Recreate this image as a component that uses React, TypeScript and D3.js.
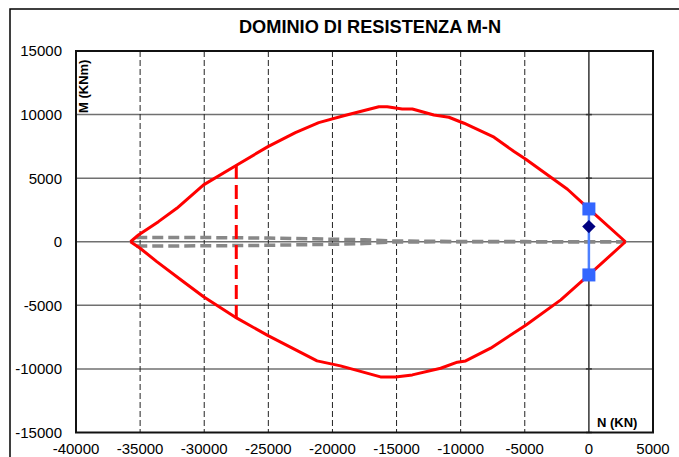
import * as d3 from 'd3';

// Dominio M-N: red envelope (upper / lower branch)
const upperN = [-35750, -35130, -33570, -32140, -30050, -27450, -25030, -22890, -21070, -19120, -16380, -15730, -14560, -13770, -12090, -10920, -9740, -7400, -5840, -4920, -1670, 0, 2850];
const upperM = [0, 530, 1580, 2630, 4470, 6040, 7480, 8580, 9370, 9910, 10620, 10620, 10440, 10440, 9970, 9790, 9320, 8220, 7090, 6490, 4130, 2580, 0];
const lowerN = [-35750, -35000, -33700, -31620, -30050, -27450, -25020, -21200, -19375, -16250, -15080, -13770, -11560, -10260, -9610, -7660, -4900, -2190, 0, 2850];
const lowerM = [0, -510, -1560, -3140, -4320, -6010, -7380, -9370, -9760, -10630, -10630, -10470, -9950, -9470, -9370, -8370, -6540, -4570, -2610, 0];

// grey dashed curves
const grayN = [-35300, -30000, -25000, -20000, -17500, -15500, -10000, -5000, 0, 2850];
const grayUpM = [340, 330, 290, 200, 160, 60, 20, 10, 0, 0];
const grayLoM = [-340, -320, -280, -200, -140, -20, 0, 0, 0, 0];

// red dashed limit
const limitN = [-27500, -27500];
const limitM = [6040, -6010];

// design points
const squareN = [0, 0];
const squareM = [2580, -2610];
const diamondN = [0];
const diamondM = [1190];

const xTicks = [-40000, -35000, -30000, -25000, -20000, -15000, -10000, -5000, 0, 5000];
const yTicks = [15000, 10000, 5000, 0, -5000, -10000, -15000];

const W = 679;
const H = 457;
const font = '"Liberation Sans", Arial, sans-serif';

export default function App() {
  const x = d3.scaleLinear().domain([-40000, 5000]).range([76, 653]);
  const y = d3.scaleLinear().domain([-15000, 15000]).range([432.5, 51]);

  const line = d3
    .line<[number, number]>()
    .x((d) => x(d[0]))
    .y((d) => y(d[1]));
  const pts = (ns: number[], ms: number[]) => ns.map((n, i) => [n, ms[i]] as [number, number]);

  const [x0, x1] = x.range();
  const [y0, y1] = y.range();

  return (
    <svg width={W} height={H} style={{ position: 'absolute', left: 0, top: 0, background: '#fff' }} fontFamily={font}>
      <rect x={10} y={9} width={720} height={520} fill="#fff" stroke="#000" strokeWidth={1.5} />
      <text x={370} y={33} textAnchor="middle" fontWeight="bold" fontSize={18.2}>
        DOMINIO DI RESISTENZA M-N
      </text>

      {/* horizontal grid */}
      {yTicks
        .filter((t) => t !== 15000 && t !== -15000)
        .map((t) => (
          <line key={'h' + t} x1={x0} x2={x1} y1={y(t)} y2={y(t)} stroke="#707070" strokeWidth={1.5} />
        ))}
      {/* vertical grid */}
      {xTicks
        .filter((t) => t !== -40000 && t !== 5000 && t !== 0)
        .map((t) => (
          <line key={'v' + t} x1={x(t)} x2={x(t)} y1={y1} y2={y0} stroke="#222" strokeWidth={1} strokeDasharray="6,3" />
        ))}
      <line x1={x(0)} x2={x(0)} y1={y1} y2={y0} stroke="#333" strokeWidth={1.5} />
      {yTicks.map((t) => (
        <line key={'t' + t} x1={x(0) - 3} x2={x(0) + 3} y1={y(t)} y2={y(t)} stroke="#333" strokeWidth={1.5} />
      ))}
      <rect x={x0} y={y1} width={x1 - x0} height={y0 - y1} fill="none" stroke="#111" strokeWidth={2} />

      {/* tick labels */}
      {yTicks.map((t) => (
        <text key={'yl' + t} x={62} y={y(t)} dy="0.36em" textAnchor="end" fontSize={15}>
          {t}
        </text>
      ))}
      {xTicks.map((t) => (
        <text key={'xl' + t} x={x(t)} y={453.5} textAnchor="middle" fontSize={15}>
          {t}
        </text>
      ))}
      <text transform="translate(87.5,113) rotate(-90)" fontSize={13} fontWeight="bold">
        M (KNm)
      </text>
      <text x={597} y={427} fontSize={13} fontWeight="bold">
        N (KN)
      </text>

      {/* grey dashed curves */}
      <path d={line(pts(grayN, grayUpM)) ?? ''} fill="none" stroke="#888" strokeWidth={3.5} strokeDasharray="11,5" />
      <path d={line(pts(grayN, grayLoM)) ?? ''} fill="none" stroke="#888" strokeWidth={3.5} strokeDasharray="11,5" />

      {/* red domain */}
      <path d={line(pts(upperN, upperM)) ?? ''} fill="none" stroke="#ff0000" strokeWidth={3} strokeLinejoin="round" />
      <path d={line(pts(lowerN, lowerM)) ?? ''} fill="none" stroke="#ff0000" strokeWidth={3} strokeLinejoin="round" />
      <path d={line(pts(limitN, limitM)) ?? ''} fill="none" stroke="#ff0000" strokeWidth={3} strokeDasharray="14,6" />

      {/* design points */}
      <path d={line(pts(squareN, squareM)) ?? ''} fill="none" stroke="#4d80ff" strokeWidth={2.5} />
      {squareN.map((n, i) => (
        <rect key={'s' + i} x={x(n) - 6.5} y={y(squareM[i]) - 6.5} width={13} height={13} fill="#3366ff" />
      ))}
      {diamondN.map((n, i) => (
        <path
          key={'d' + i}
          d={d3.symbol(d3.symbolDiamond2, 115)() ?? ''}
          transform={`translate(${x(n)},${y(diamondM[i])})`}
          fill="#000080"
        />
      ))}
    </svg>
  );
}
